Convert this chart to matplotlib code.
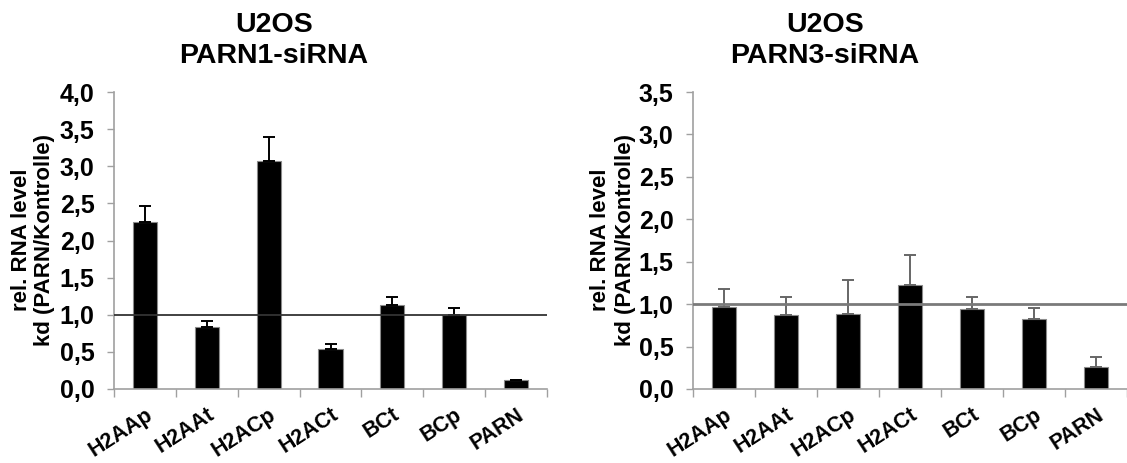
import numpy as np
import matplotlib
matplotlib.use("Agg")
import matplotlib.pyplot as plt
from matplotlib.ticker import FixedLocator

plt.rcParams['font.family'] = ['Liberation Sans', 'DejaVu Sans']
plt.rcParams['font.weight'] = 'bold'

categories = ["H2AAp", "H2AAt", "H2ACp", "H2ACt", "BCt", "BCp", "PARN"]

left_title = ["U2OS", "PARN1-siRNA"]
left_values = [2.25, 0.84, 3.07, 0.54, 1.13, 0.99, 0.12]
left_errors = [0.22, 0.08, 0.32, 0.06, 0.11, 0.10, 0.0]
left_yticks = [0.0, 0.5, 1.0, 1.5, 2.0, 2.5, 3.0, 3.5, 4.0]

right_title = ["U2OS", "PARN3-siRNA"]
right_values = [0.97, 0.87, 0.88, 1.22, 0.94, 0.83, 0.26]
right_errors = [0.21, 0.21, 0.40, 0.36, 0.14, 0.13, 0.12]
right_yticks = [0.0, 0.5, 1.0, 1.5, 2.0, 2.5, 3.0, 3.5]

ylabel_lines = ["rel. RNA level", "kd (PARN/Kontrolle)"]
ref_level = 1.0

W, H = 1127, 463
fig = plt.figure(figsize=(W / 100, H / 100), dpi=100)

def px(x, y):
    return x / W, 1 - y / H

AX_GRAY = '#a0a0a0'

def make_panel(rect_px, values, errors, yticks, title, title_cx, ylab_x,
               ecolor, capcolor, linecolor, linew):
    x0, y0, x1, y1 = rect_px
    ax = fig.add_axes([x0 / W, 1 - y1 / H, (x1 - x0) / W, (y1 - y0) / H])
    x = np.arange(len(categories))
    ax.bar(x, values, width=0.39, color='black', edgecolor='#8a8a8a',
           linewidth=0.8, zorder=2)
    eb = ax.errorbar(x, values, yerr=[np.zeros(len(errors)), errors], fmt='none',
                     ecolor=ecolor, elinewidth=1.4, capsize=4, capthick=1.4,
                     zorder=3)
    for cl in eb[1]:
        cl.set_color(capcolor)
    ax.axhline(ref_level, color=linecolor, linewidth=linew, zorder=4)
    ax.set_xlim(-0.5, len(categories) - 0.5)
    ax.set_ylim(yticks[0], yticks[-1])
    ax.set_yticks(yticks)
    ax.set_yticklabels([f"{t:.1f}".replace('.', ',') for t in yticks],
                       fontsize=18, fontweight='bold')
    ax.xaxis.set_major_locator(FixedLocator(np.arange(-0.5, len(categories))))
    ax.xaxis.set_minor_locator(FixedLocator(x))
    ax.set_xticklabels([], minor=False)
    ax.set_xticklabels(categories, minor=True, rotation=33, ha='right',
                       va='top', rotation_mode='anchor', fontsize=15.5,
                       fontweight='bold')
    ax.tick_params(axis='x', which='major', length=6, width=1, color=AX_GRAY,
                   direction='out')
    ax.tick_params(axis='x', which='minor', length=0, pad=11)
    ax.tick_params(axis='y', which='major', length=5, width=1, color=AX_GRAY,
                   direction='out', pad=9)
    for s in ['top', 'right']:
        ax.spines[s].set_visible(False)
    for s in ['left', 'bottom']:
        ax.spines[s].set_color(AX_GRAY)
        ax.spines[s].set_linewidth(1.2)
    ax.set_facecolor('none')
    # titles
    fig.text(*px(title_cx, 32), title[0], ha='center', va='baseline',
             fontsize=20.5, fontweight='bold')
    fig.text(*px(title_cx, 63), title[1], ha='center', va='baseline',
             fontsize=20.5, fontweight='bold')
    # y label (two lines)
    fig.text(*px(ylab_x[0], 240), ylabel_lines[0], rotation=90, ha='center',
             va='center', fontsize=16, fontweight='bold')
    fig.text(*px(ylab_x[1], 240), ylabel_lines[1], rotation=90, ha='center',
             va='center', fontsize=16, fontweight='bold')
    return ax

make_panel((114, 92, 547, 389), left_values, left_errors, left_yticks,
           left_title, 274, (22, 45), 'black', 'black', '#333333', 1.3)
make_panel((693, 92, 1127, 389), right_values, right_errors, right_yticks,
           right_title, 825, (600, 625), '#666666', '#222222', '#7a7a7a', 2.0)

fig.savefig("out.png", dpi=100)
